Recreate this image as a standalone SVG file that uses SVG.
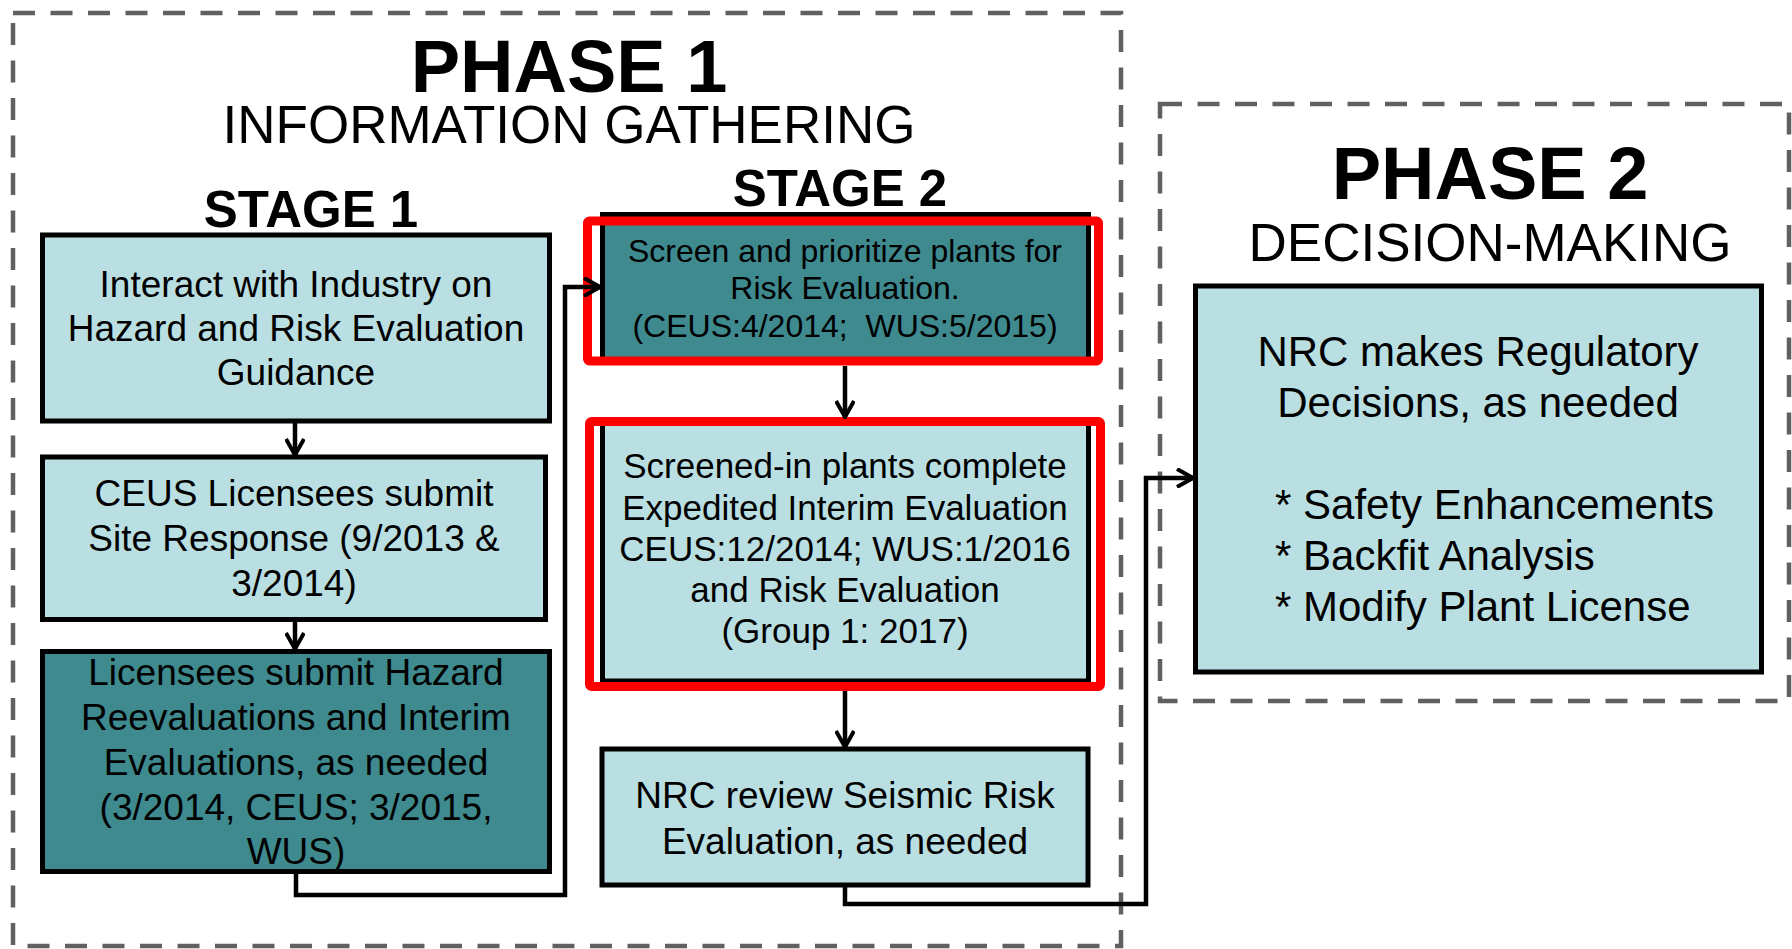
<svg xmlns="http://www.w3.org/2000/svg" width="1792" height="949" viewBox="0 0 1792 949">
<style>
text{font-family:"Liberation Sans",Arial,sans-serif;fill:#000;text-anchor:middle}
.phase{fill:none;stroke:#606060;stroke-width:4.5;stroke-dasharray:22 15.5}
.light{fill:#b9dfe2;stroke:#000;stroke-width:5}
.dark{fill:#3e8a8f;stroke:#000;stroke-width:5}
.red{fill:none;stroke:#ff0000;stroke-width:9}
.t37{font-size:37px}
.t35{font-size:35px}
.t32{font-size:32px}
.t42{font-size:42px}
.conn{fill:none;stroke:#000;stroke-width:4.5}
.big{font-size:74px;font-weight:bold}
.sub{font-size:53px}
.stage{font-size:51px;font-weight:bold}
</style>
<defs>
<marker id="arr" viewBox="0 0 20 20" refX="18" refY="10" markerWidth="20" markerHeight="20" markerUnits="userSpaceOnUse" orient="auto">
<path d="M2,1 L18,10 L2,19" fill="none" stroke="#000" stroke-width="4"/>
</marker>
</defs>
<rect width="1792" height="949" fill="#fff"/>

<g id="phase1">
<rect class="phase" x="13" y="13" width="1108" height="933"/>
<text class="big" x="569" y="92">PHASE 1</text>
<text class="sub" x="569" y="143">INFORMATION GATHERING</text>
<text class="stage" x="311" y="227">STAGE 1</text>
<text class="stage" x="840" y="206">STAGE 2</text>
</g>

<g id="phase2">
<rect class="phase" x="1160" y="104" width="629" height="597"/>
<text class="big" x="1490" y="199">PHASE 2</text>
<text class="sub" x="1490" y="261">DECISION-MAKING</text>
</g>

<g id="node-interact">
<rect class="light" x="42.5" y="235" width="507" height="186"/>
<text class="t37" x="296" y="297">Interact with Industry on</text>
<text class="t37" x="296" y="341">Hazard and Risk Evaluation</text>
<text class="t37" x="296" y="385">Guidance</text>
</g>

<g id="node-ceus">
<rect class="light" x="42.5" y="457" width="503" height="162.5"/>
<text class="t37" x="294" y="506">CEUS Licensees submit</text>
<text class="t37" x="294" y="551">Site Response (9/2013 &amp;</text>
<text class="t37" x="294" y="596">3/2014)</text>
</g>

<g id="node-licensees">
<rect class="dark" x="42.5" y="651.5" width="507" height="220"/>
<text class="t37" x="296" y="685">Licensees submit Hazard</text>
<text class="t37" x="296" y="730">Reevaluations and Interim</text>
<text class="t37" x="296" y="775">Evaluations, as needed</text>
<text class="t37" x="296" y="820">(3/2014, CEUS; 3/2015,</text>
<text class="t37" x="296" y="864">WUS)</text>
</g>

<g id="node-screen">
<rect class="dark" x="602.5" y="214.5" width="486" height="146"/>
<rect class="red" x="587.5" y="221" width="511" height="140" rx="2"/>
<text class="t32" x="845" y="262">Screen and prioritize plants for</text>
<text class="t32" x="845" y="299">Risk Evaluation.</text>
<text class="t32" x="845" y="337" xml:space="preserve">(CEUS:4/2014;  WUS:5/2015)</text>
</g>

<g id="node-screened-in">
<rect class="light" x="602.5" y="421" width="486" height="260"/>
<rect class="red" x="589.5" y="421.5" width="511" height="265" rx="2"/>
<text class="t35" x="845" y="478">Screened-in plants complete</text>
<text class="t35" x="845" y="520">Expedited Interim Evaluation</text>
<text class="t35" x="845" y="561">CEUS:12/2014; WUS:1/2016</text>
<text class="t35" x="845" y="602">and Risk Evaluation</text>
<text class="t35" x="845" y="643">(Group 1: 2017)</text>
</g>

<g id="node-nrc-review">
<rect class="light" x="602" y="749" width="486" height="136"/>
<text class="t37" x="845" y="808">NRC review Seismic Risk</text>
<text class="t37" x="845" y="854">Evaluation, as needed</text>
</g>

<g id="node-nrc-decisions">
<rect class="light" x="1195.5" y="286" width="566" height="386"/>
<text class="t42" x="1478" y="366">NRC makes Regulatory</text>
<text class="t42" x="1478" y="417">Decisions, as needed</text>
<text class="t42" x="1275" y="519" style="text-anchor:start">* Safety Enhancements</text>
<text class="t42" x="1275" y="570" style="text-anchor:start">* Backfit Analysis</text>
<text class="t42" x="1275" y="621" style="text-anchor:start">* Modify Plant License</text>
</g>

<g id="connectors">
<path class="conn" d="M295,423 L295,455" marker-end="url(#arr)"/>
<path class="conn" d="M295,622 L295,649" marker-end="url(#arr)"/>
<path class="conn" d="M296,874 L296,895 L565,895 L565,287 L600,287" marker-end="url(#arr)"/>
<path class="conn" d="M845,366 L845,417" marker-end="url(#arr)"/>
<path class="conn" d="M845,691 L845,747" marker-end="url(#arr)"/>
<path class="conn" d="M845,887 L845,904 L1146,904 L1146,478 L1193,478" marker-end="url(#arr)"/>
</g>
</svg>
